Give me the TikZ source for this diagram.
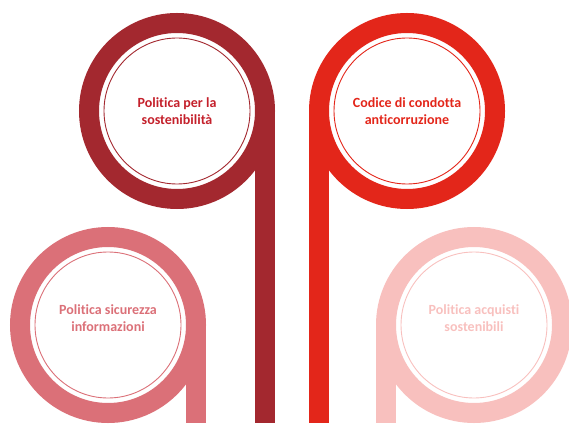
\documentclass[tikz,border=0pt]{standalone}
\usepackage{fontspec}
\setmainfont{Carlito}[Ligatures=NoCommon]
\definecolor{cDark}{HTML}{A3282F}
\definecolor{cDarkText}{HTML}{C4202B}
\definecolor{cRed}{HTML}{E3261A}
\definecolor{cPink}{HTML}{DB7078}
\definecolor{cLight}{HTML}{F8C0BE}
\begin{document}
\begin{tikzpicture}[x=1pt,y=1pt,
  ring/.style={circle, draw=#1, line width=20pt, minimum size=176pt, outer sep=0pt, inner sep=0pt},
  disc/.style={circle, draw=#1, line width=0.9pt, minimum size=146pt, inner sep=0pt},
  caption/.style={text=#1, align=center, inner sep=0pt, font=\bfseries\fontsize{14}{17}\selectfont},
  stem/.style={draw=#1, line width=20pt}]
\useasboundingbox (0,0) rectangle (569,423);
% top row
\node[ring=cDark] (r0) at (177,312){};
\node[disc=cDark] (d0) at (177,312){};
\node[caption=cDarkText] (t0) at (177,312){Politica per la\\sostenibilità};
\coordinate (b0) at (265,0);
\draw[stem=cDark] (r0.east) -- (b0);
\node[ring=cRed] (r1) at (407,312){};
\node[disc=cRed] (d1) at (407,312){};
\node[caption=cRed] (t1) at (407,312){Codice di condotta\\anticorruzione};
\coordinate (b1) at (319,0);
\draw[stem=cRed] (r1.west) -- (b1);
% bottom row
\node[ring=cPink] (r2) at (108,98){};
\node[disc=cPink] (d2) at (108,98){};
\node[caption=cPink] (t2) at (108,105){Politica sicurezza\\informazioni};
\coordinate (b2) at (196,0);
\draw[stem=cPink] (r2.east) -- (b2);
\node[ring=cLight] (r3) at (474,98){};
\node[disc=cLight] (d3) at (474,98){};
\node[caption=cLight] (t3) at (474,105){Politica acquisti\\sostenibili};
\coordinate (b3) at (386,0);
\draw[stem=cLight] (r3.west) -- (b3);
\end{tikzpicture}
\end{document}
